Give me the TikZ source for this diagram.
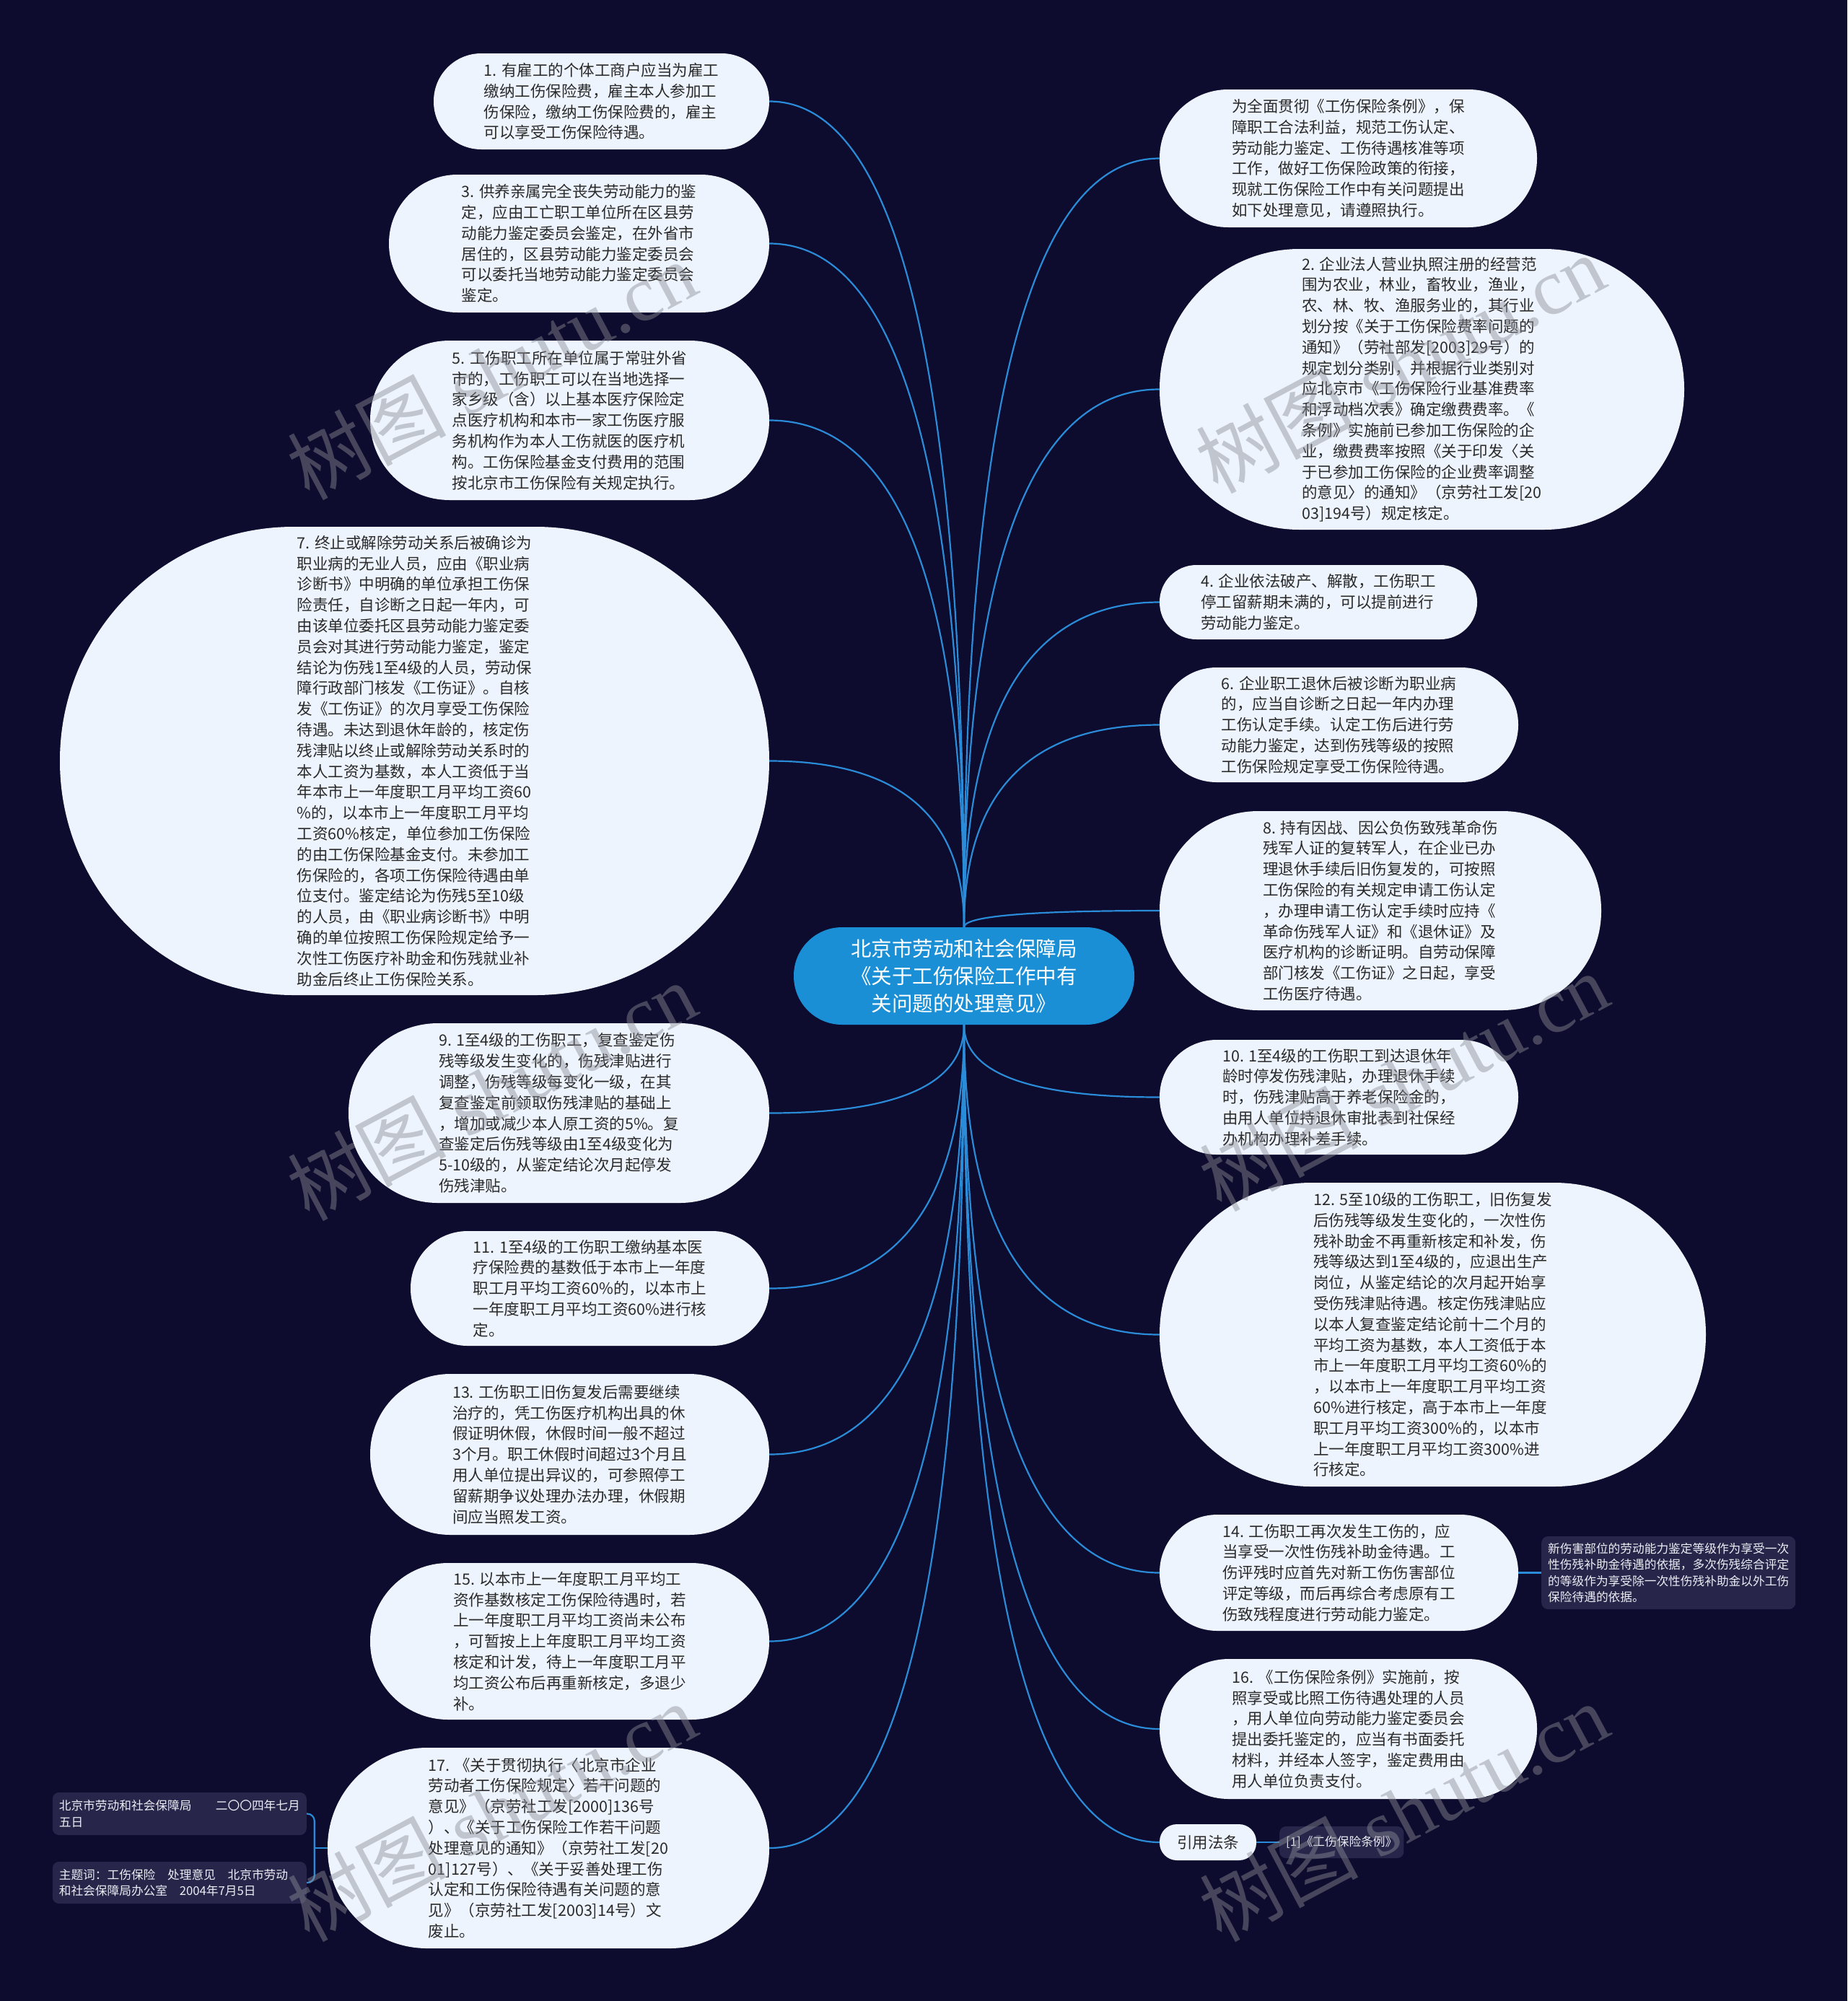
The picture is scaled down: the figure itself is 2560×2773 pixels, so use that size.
\documentclass[tikz,border=0pt]{standalone}
\usepackage{fontspec}
\setmainfont{Noto Sans CJK SC}
\newfontfamily\wmlatin{Liberation Serif}
\usetikzlibrary{calc}
\definecolor{bgcol}{HTML}{0E0C2E}
\definecolor{bubfill}{HTML}{EEF4FD}
\definecolor{bubtext}{HTML}{2A2A2A}
\definecolor{ctrfill}{HTML}{1B8FD5}
\definecolor{linkcol}{HTML}{2A8CD8}
\definecolor{leaffill}{HTML}{27264A}
\definecolor{leaftext}{HTML}{EDEDF5}
\definecolor{wmcol}{RGB}{140,140,150}
\newcommand\fbub{\fontsize{21.5pt}{28.8pt}\selectfont}
\newcommand\fctr{\fontsize{28.5pt}{38pt}\selectfont}
\newcommand\fleaf{\fontsize{16.7pt}{22.4pt}\selectfont}
\newcommand\fwm{\fontsize{110pt}{120pt}\selectfont}
\newcommand\linkto[2]{\draw[link] (#1) .. controls ($(#1)!0.667!(#1 |- #2)$) and ($(#2)!0.667!(#1 |- #2)$) .. (#2);}
\tikzset{
  bub/.style={rectangle, fill=bubfill, rounded corners=#1, inner sep=0pt, align=left, text=bubtext, font=\fbub},
  ctr/.style={rectangle, fill=ctrfill, rounded corners=67pt, minimum width=472pt, minimum height=135pt, inner sep=0pt, align=center, text=white, font=\fctr},
  leaf/.style={rectangle, fill=leaffill, rounded corners=9pt, inner xsep=9pt, inner ysep=4pt, align=left, text=leaftext, font=\fleaf},
  link/.style={draw=linkcol, line width=2.2pt},
  wm/.style={text=wmcol, text opacity=0.45, font=\fwm, inner sep=0pt},
}
\begin{document}
\begin{tikzpicture}[x=1pt, y=-1pt]
\useasboundingbox (0,0) rectangle (2560,2773);
\fill[bgcol] (0,0) rectangle (2560,2773);

% centre
\node[ctr] (c) at (1336,1352.5) {北京市劳动和社会保障局\\《关于工伤保险工作中有\\关问题的处理意见》};

% left column
\node[bub=66pt, minimum width=465pt, minimum height=133pt] (n1) at (833.5,140.5) {1. 有雇工的个体工商户应当为雇工\\缴纳工伤保险费，雇主本人参加工\\伤保险，缴纳工伤保险费的，雇主\\可以享受工伤保险待遇。};
\node[bub=95pt, minimum width=527pt, minimum height=191pt] (n3) at (802.5,337.5) {3. 供养亲属完全丧失劳动能力的鉴\\定，应由工亡职工单位所在区县劳\\动能力鉴定委员会鉴定，在外省市\\居住的，区县劳动能力鉴定委员会\\可以委托当地劳动能力鉴定委员会\\鉴定。};
\node[bub=110pt, minimum width=553pt, minimum height=221pt] (n5) at (789.5,582.5) {5. 工伤职工所在单位属于常驻外省\\市的，工伤职工可以在当地选择一\\家乡级（含）以上基本医疗保险定\\点医疗机构和本市一家工伤医疗服\\务机构作为本人工伤就医的医疗机\\构。工伤保险基金支付费用的范围\\按北京市工伤保险有关规定执行。};
\node[bub=324pt, minimum width=983pt, minimum height=649pt] (n7) at (574.5,1054.5) {7. 终止或解除劳动关系后被确诊为\\职业病的无业人员，应由《职业病\\诊断书》中明确的单位承担工伤保\\险责任，自诊断之日起一年内，可\\由该单位委托区县劳动能力鉴定委\\员会对其进行劳动能力鉴定，鉴定\\结论为伤残1至4级的人员，劳动保\\障行政部门核发《工伤证》。自核\\发《工伤证》的次月享受工伤保险\\待遇。未达到退休年龄的，核定伤\\残津贴以终止或解除劳动关系时的\\本人工资为基数，本人工资低于当\\年本市上一年度职工月平均工资60\\\%的，以本市上一年度职工月平均\\工资60\%核定，单位参加工伤保险\\的由工伤保险基金支付。未参加工\\伤保险的，各项工伤保险待遇由单\\位支付。鉴定结论为伤残5至10级\\的人员，由《职业病诊断书》中明\\确的单位按照工伤保险规定给予一\\次性工伤医疗补助金和伤残就业补\\助金后终止工伤保险关系。};
\node[bub=124pt, minimum width=583pt, minimum height=249pt] (n9) at (774.5,1542.5) {9. 1至4级的工伤职工，复查鉴定伤\\残等级发生变化的，伤残津贴进行\\调整，伤残等级每变化一级，在其\\复查鉴定前领取伤残津贴的基础上\\，增加或减少本人原工资的5\%。复\\查鉴定后伤残等级由1至4级变化为\\5-10级的，从鉴定结论次月起停发\\伤残津贴。};
\node[bub=79pt, minimum width=497pt, minimum height=159pt] (n11) at (817.5,1785.5) {11. 1至4级的工伤职工缴纳基本医\\疗保险费的基数低于本市上一年度\\职工月平均工资60\%的，以本市上\\一年度职工月平均工资60\%进行核\\定。};
\node[bub=111pt, minimum width=553pt, minimum height=223pt] (n13) at (789.5,2015.5) {13. 工伤职工旧伤复发后需要继续\\治疗的，凭工伤医疗机构出具的休\\假证明休假，休假时间一般不超过\\3个月。职工休假时间超过3个月且\\用人单位提出异议的，可参照停工\\留薪期争议处理办法办理，休假期\\间应当照发工资。};
\node[bub=108pt, minimum width=553pt, minimum height=217pt] (n15) at (789.5,2274.5) {15. 以本市上一年度职工月平均工\\资作基数核定工伤保险待遇时，若\\上一年度职工月平均工资尚未公布\\，可暂按上上年度职工月平均工资\\核定和计发，待上一年度职工月平\\均工资公布后再重新核定，多退少\\补。};
\node[bub=138pt, minimum width=612pt, minimum height=278pt] (n17) at (760,2561) {17. 《关于贯彻执行〈北京市企业\\劳动者工伤保险规定〉若干问题的\\意见》（京劳社工发[2000]136号\\）、《关于工伤保险工作若干问题\\处理意见的通知》（京劳社工发[20\\01]127号）、《关于妥善处理工伤\\认定和工伤保险待遇有关问题的意\\见》（京劳社工发[2003]14号）文\\废止。};

% left leaves
\node[leaf, anchor=east, text width=334pt, minimum height=59pt] (L1) at (425,2513.5) {北京市劳动和社会保障局　　二〇〇四年七月\\五日};
\node[leaf, anchor=east, text width=334pt, minimum height=58pt] (L2) at (425,2609) {主题词：工伤保险　处理意见　北京市劳动\\和社会保障局办公室　2004年7月5日};

% right column
\node[bub=95pt, minimum width=523pt, minimum height=191pt] (n0) at (1868.5,219.5) {为全面贯彻《工伤保险条例》，保\\障职工合法利益，规范工伤认定、\\劳动能力鉴定、工伤待遇核准等项\\工作，做好工伤保险政策的衔接，\\现就工伤保险工作中有关问题提出\\如下处理意见，请遵照执行。};
\node[bub=194pt, minimum width=727pt, minimum height=389pt] (n2) at (1970.5,539.5) {2. 企业法人营业执照注册的经营范\\围为农业，林业，畜牧业，渔业，\\农、林、牧、渔服务业的，其行业\\划分按《关于工伤保险费率问题的\\通知》（劳社部发[2003]29号）的\\规定划分类别，并根据行业类别对\\应北京市《工伤保险行业基准费率\\和浮动档次表》确定缴费费率。《\\条例》实施前已参加工伤保险的企\\业，缴费费率按照《关于印发〈关\\于已参加工伤保险的企业费率调整\\的意见〉的通知》（京劳社工发[20\\03]194号）规定核定。};
\node[bub=51pt, minimum width=440pt, minimum height=103pt] (n4) at (1827,834.5) {4. 企业依法破产、解散，工伤职工\\停工留薪期未满的，可以提前进行\\劳动能力鉴定。};
\node[bub=79pt, minimum width=497pt, minimum height=159pt] (n6) at (1855.5,1004.5) {6. 企业职工退休后被诊断为职业病\\的，应当自诊断之日起一年内办理\\工伤认定手续。认定工伤后进行劳\\动能力鉴定，达到伤残等级的按照\\工伤保险规定享受工伤保险待遇。};
\node[bub=137pt, minimum width=612pt, minimum height=276pt] (n8) at (1913,1262) {8. 持有因战、因公负伤致残革命伤\\残军人证的复转军人，在企业已办\\理退休手续后旧伤复发的，可按照\\工伤保险的有关规定申请工伤认定\\，办理申请工伤认定手续时应持《\\革命伤残军人证》和《退休证》及\\医疗机构的诊断证明。自劳动保障\\部门核发《工伤证》之日起，享受\\工伤医疗待遇。};
\node[bub=79pt, minimum width=497pt, minimum height=159pt] (n10) at (1855.5,1520.5) {10. 1至4级的工伤职工到达退休年\\龄时停发伤残津贴，办理退休手续\\时，伤残津贴高于养老保险金的，\\由用人单位持退休审批表到社保经\\办机构办理补差手续。};
\node[bub=210pt, minimum width=757pt, minimum height=421pt] (n12) at (1985.5,1849.5) {12. 5至10级的工伤职工，旧伤复发\\后伤残等级发生变化的，一次性伤\\残补助金不再重新核定和补发，伤\\残等级达到1至4级的，应退出生产\\岗位，从鉴定结论的次月起开始享\\受伤残津贴待遇。核定伤残津贴应\\以本人复查鉴定结论前十二个月的\\平均工资为基数，本人工资低于本\\市上一年度职工月平均工资60\%的\\，以本市上一年度职工月平均工资\\60\%进行核定，高于本市上一年度\\职工月平均工资300\%的，以本市\\上一年度职工月平均工资300\%进\\行核定。};
\node[bub=80pt, minimum width=497pt, minimum height=161pt] (n14) at (1855.5,2179.5) {14. 工伤职工再次发生工伤的，应\\当享受一次性伤残补助金待遇。工\\伤评残时应首先对新工伤伤害部位\\评定等级，而后再综合考虑原有工\\伤致残程度进行劳动能力鉴定。};
\node[bub=96pt, minimum width=523pt, minimum height=194pt] (n16) at (1868.5,2396) {16. 《工伤保险条例》实施前，按\\照享受或比照工伤待遇处理的人员\\，用人单位向劳动能力鉴定委员会\\提出委托鉴定的，应当有书面委托\\材料，并经本人签字，鉴定费用由\\用人单位负责支付。};
\node[bub=24pt, minimum width=134pt, minimum height=50pt] (cite) at (1674,2553) {引用法条};

% right leaves
\node[leaf, anchor=west, text width=334pt, minimum height=101pt] (R14) at (2136,2179.5) {新伤害部位的劳动能力鉴定等级作为享受一次\\性伤残补助金待遇的依据，多次伤残综合评定\\的等级作为享受除一次性伤残补助金以外工伤\\保险待遇的依据。};
\node[leaf, anchor=west, minimum width=172pt, minimum height=44pt, align=center] (Rc) at (1773,2553) {[1]《工伤保险条例》};

% connectors
\linkto{c.north}{n1.east}
\linkto{c.north}{n3.east}
\linkto{c.north}{n5.east}
\linkto{c.north}{n7.east}
\linkto{c.south}{n9.east}
\linkto{c.south}{n11.east}
\linkto{c.south}{n13.east}
\linkto{c.south}{n15.east}
\linkto{c.south}{n17.east}
\linkto{c.north}{n0.west}
\linkto{c.north}{n2.west}
\linkto{c.north}{n4.west}
\linkto{c.north}{n6.west}
\linkto{c.north}{n8.west}
\linkto{c.south}{n10.west}
\linkto{c.south}{n12.west}
\linkto{c.south}{n14.west}
\linkto{c.south}{n16.west}
\linkto{c.south}{cite.west}
\draw[link] (n14.east) -- (R14.west);
\draw[link] (cite.east) -- (Rc.west);
\coordinate (j17) at ($(n17.west)+(-18,0)$);
\draw[link] (n17.west) -- (j17);
\draw[link, rounded corners=10pt] (j17) |- (L1.east);
\draw[link, rounded corners=10pt] (j17) |- (L2.east);

% watermarks
\foreach \wx/\wy [count=\i] in {681/513, 681/1512, 681/2511, 1940/504, 1945/1499, 1945/2511}{
  \node[wm, rotate=28] (wm\i) at (\wx,\wy) {树图\hspace{0.25em}{\wmlatin shutu.cn}};
}
\end{tikzpicture}
\end{document}
